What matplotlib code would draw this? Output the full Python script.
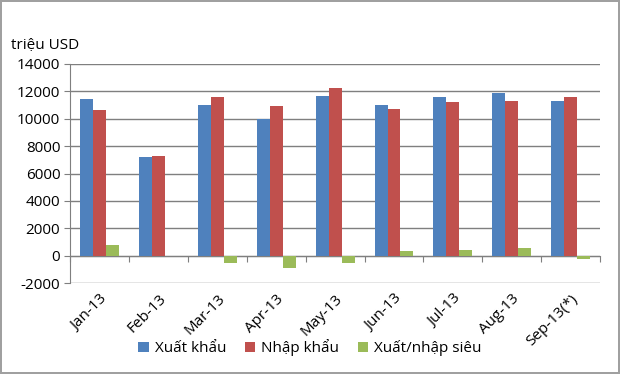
import matplotlib
matplotlib.use("Agg")
import matplotlib.pyplot as plt
import numpy as np

plt.rcParams['font.family'] = ['Open Sans', 'DejaVu Sans']

categories = ["Jan-13", "Feb-13", "Mar-13", "Apr-13", "May-13", "Jun-13", "Jul-13", "Aug-13", "Sep-13(*)"]
xuat_khau = [11470, 7180, 11000, 9960, 11660, 11000, 11560, 11860, 11300]
nhap_khau = [10660, 7280, 11560, 10910, 12250, 10710, 11200, 11300, 11560]
chenh_lech = [800, 0, -540, -880, -540, 320, 440, 580, -240]
series_names = ["Xuất khẩu", "Nhập khẩu", "Xuất/nhập siêu"]
colors = ["#4F81BD", "#C0504D", "#9BBB59"]
yticks = list(range(-2000, 14001, 2000))

fig = plt.figure(figsize=(6.2, 3.74), dpi=100)
fig.patch.set_edgecolor("#A0A0A0")
fig.patch.set_linewidth(1.5)
ax = fig.add_axes([0.113, 0.243, 0.855, 0.586])

x = np.arange(len(categories))
w = 0.22
for i, (vals, name, c) in enumerate(zip([xuat_khau, nhap_khau, chenh_lech], series_names, colors)):
    ax.bar(x + (i - 1) * w, vals, width=w, color=c, label=name, zorder=3)

ax.set_xlim(-0.5, len(categories) - 0.5)
ax.set_ylim(-2000, 14000)
ax.set_yticks(yticks)
ax.set_yticklabels([str(v) for v in yticks], fontsize=11)
ax.yaxis.grid(True, color="#7F7F7F", linewidth=1.0, zorder=0)
ax.tick_params(axis='y', length=4, color="#7F7F7F", pad=3)

for s in ["top", "right", "bottom"]:
    ax.spines[s].set_visible(False)
ax.spines["left"].set_color("#7F7F7F")

ax.set_xticks(x)
ax.set_xticklabels(categories, rotation=45, ha='right', va='top', rotation_mode='anchor', fontsize=11)
ax.tick_params(axis='x', length=0, pad=6)

# category axis at zero with boundary ticks
sec = ax.secondary_xaxis((0 - (-2000)) / 16000)
sec.set_xticks(np.arange(len(categories) + 1) - 0.5)
sec.set_xticklabels([])
sec.tick_params(axis='x', direction='out', length=4, color="#7F7F7F")
sec.spines['bottom'].set_color("#7F7F7F")

fig.text(0.018, 0.878, "triệu USD", fontsize=11, ha='left', va='center')

leg = fig.legend(loc='center', bbox_to_anchor=(0.5, 0.07), ncol=3, frameon=False,
                 fontsize=11, handlelength=0.7, handleheight=0.7, handletextpad=0.4,
                 columnspacing=1.2)

fig.savefig("out.png", dpi=100)
